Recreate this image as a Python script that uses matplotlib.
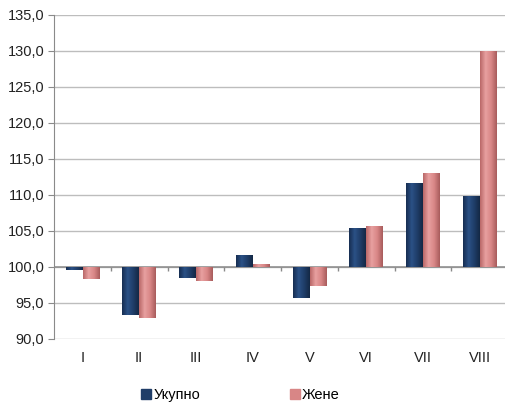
import matplotlib.pyplot as plt
from matplotlib.colors import LinearSegmentedColormap
import numpy as np

plt.rcParams['font.family'] = ['Liberation Sans', 'DejaVu Sans']

# data
categories = ['I', 'II', 'III', 'IV', 'V', 'VI', 'VII', 'VIII']
ukupno = [99.6, 93.3, 98.5, 101.7, 95.7, 105.4, 111.6, 109.8]
zene = [98.3, 92.9, 98.0, 100.4, 97.3, 105.7, 113.1, 130.0]
base = 100.0

blue_cmap = LinearSegmentedColormap.from_list('b', ['#172e52', '#2b5186', '#1f3d68', '#142845'])
pink_cmap = LinearSegmentedColormap.from_list('p', ['#b96868', '#e8a0a0', '#d88686', '#a85c5c'])

fig = plt.figure(figsize=(5.05, 4.03), dpi=100)
ax = fig.add_axes([54/505, 1 - 339/403, 1 - 54/505 + 0.006, (339 - 15)/403])

x = np.arange(len(categories))
w = 0.29
b1 = ax.bar(x - w/2 - 0.005, np.array(ukupno) - base, bottom=base, width=w,
            color='#1f3d68', label='Укупно', zorder=3)
b2 = ax.bar(x + w/2 + 0.005, np.array(zene) - base, bottom=base, width=w,
            color='#d88686', label='Жене', zorder=3)

# horizontal shading on the bars
grad = np.linspace(0, 1, 64).reshape(1, -1)
for bars, cmap in ((b1, blue_cmap), (b2, pink_cmap)):
    for p in bars:
        x0, y0 = p.get_x(), p.get_y()
        x1, y1 = x0 + p.get_width(), y0 + p.get_height()
        im = ax.imshow(grad, cmap=cmap, aspect='auto', extent=(x0, x1, min(y0, y1), max(y0, y1)),
                       zorder=4)
        im.set_clip_path(p)

ax.set_xlim(-0.5, 7.5)
ax.set_ylim(90, 135)
ax.set_yticks(np.arange(90, 136, 5))
ax.set_yticklabels([f'{v:.1f}'.replace('.', ',') for v in np.arange(90, 136, 5)])
ax.set_xticks(x)
ax.set_xticklabels(categories)
ax.yaxis.grid(True, color='#bdbdbd', linewidth=1.0, zorder=0)
ax.set_axisbelow(True)

for s in ('top', 'right', 'bottom'):
    ax.spines[s].set_visible(False)
ax.spines['left'].set_color('#8a8a8a')
ax.tick_params(axis='y', length=4, color='#8a8a8a', labelsize=10.5, pad=3, labelcolor='#222222')
ax.tick_params(axis='x', length=0, labelsize=10.5, pad=9, labelcolor='#222222')

# category axis crossing at 100
ax.axhline(base, color='#8a8a8a', linewidth=1.1, zorder=2)
ax.vlines(np.arange(0.5, 7.5, 1), base - 0.6, base, color='#8a8a8a', linewidth=1, zorder=2)

h1 = plt.Line2D([], [], marker='s', linestyle='', markersize=7, color='#1f3d68')
h2 = plt.Line2D([], [], marker='s', linestyle='', markersize=7, color='#d88686')
fig.legend([h1, h2], ['Укупно', 'Жене'], loc='lower center', bbox_to_anchor=(0.475, -0.03),
           ncol=2, frameon=False, fontsize=10.5, handletextpad=0.1, columnspacing=6.1,
           handlelength=0.8)

fig.savefig('out.png', dpi=100)
